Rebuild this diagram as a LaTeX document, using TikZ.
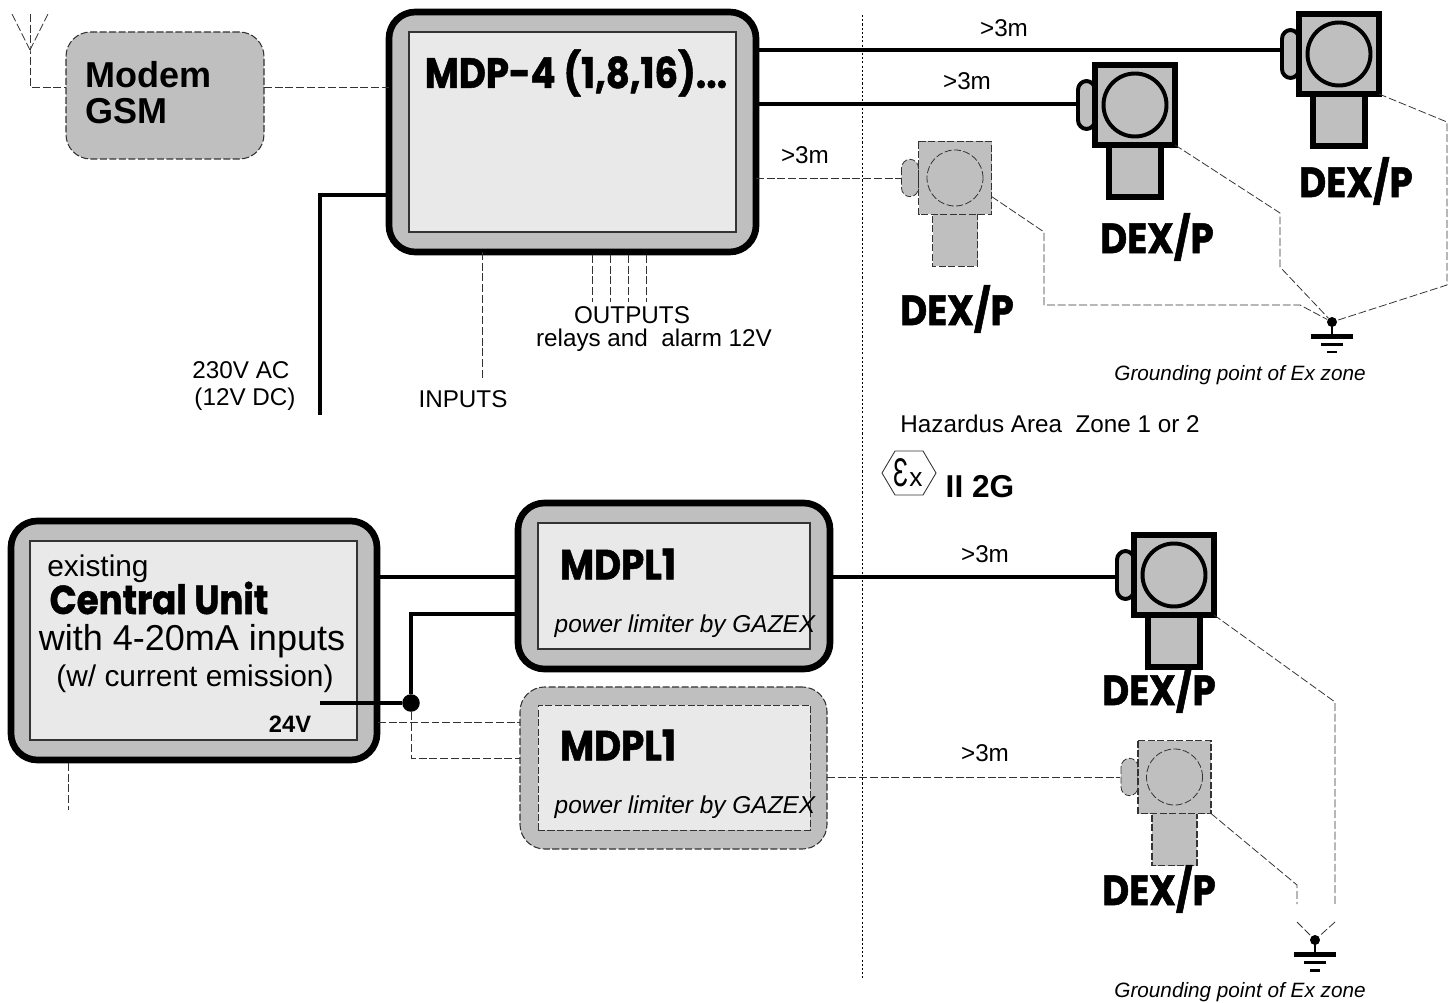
\documentclass[tikz,border=0pt]{standalone}
\usepackage{fontspec}
\usepackage{graphicx}
\setmainfont{Liberation Sans}
\newfontfamily\heavyfont[FakeBold=1.2,FakeStretch=.88]{Poppins}
\usetikzlibrary{positioning}
\definecolor{boxgray}{HTML}{BFBFBF}
\definecolor{panelgray}{HTML}{E9E9E9}
\definecolor{wiregray}{HTML}{333333}
\tikzset{
  devline/.style={draw=black,line width=3pt,fill=boxgray,line join=miter},
  devthin/.style={draw=wiregray,line width=.6pt,dash pattern=on 4pt off 1.4pt,fill=boxgray},
  casing/.style={draw=black,line width=3.8pt,fill=boxgray,rounded corners=15pt,inner sep=0pt,outer sep=0pt},
  casingthin/.style={draw=wiregray,line width=.6pt,dash pattern=on 4pt off 1.4pt,fill=boxgray,rounded corners=14pt,inner sep=0pt,outer sep=0pt},
  panel/.style={draw=wiregray,line width=.6pt,fill=panelgray,inner sep=0pt,outer sep=0pt},
  panelthin/.style={draw=wiregray,line width=.5pt,dash pattern=on 4pt off 1.4pt,fill=panelgray,inner sep=0pt,outer sep=0pt},
  cable/.style={draw=black,line width=1.8pt},
  wire/.style={draw=wiregray,line width=.45pt,dash pattern=on 4.5pt off 1.6pt},
  lbl/.style={font=\fontsize{13.8}{15}\selectfont,inner sep=0pt},
  gndlbl/.style={font=\fontsize{11.8}{14}\selectfont\itshape,inner sep=0pt},
  heavy/.style={font=\fontsize{24}{26}\heavyfont\bfseries,inner sep=0pt},
  gnddot/.style={circle,fill=black,inner sep=0pt,minimum size=5.7pt}
}
\newcommand{\Detector}[5]{%
  \begin{scope}[shift={(#2,#3)}]
    \draw[#5] ({-#4+14},0) rectangle ({#4-14},{#4+52});
    \draw[#5,line width=\pgflinewidth*.75,rounded corners=5pt] ({-#4-17},{-1.5*#4+36}) rectangle (-#4,{1.5*#4-36});
    \draw[#5] (-#4,-#4) rectangle (#4,#4);
    \draw[#5,line width=\pgflinewidth*.75] (0,0) circle ({(#4-8.5)*.02cm});
    \coordinate (#1port) at ({-#4-18},0);
    \coordinate (#1earth) at (#4,#4);
  \end{scope}
}
\newcommand{\Earth}[3]{%
  \node[gnddot] (#1) at (#2,#3) {};
  \fill (#2-1,#3) rectangle (#2+1,#3+13);
  \fill (#2-21,#3+12) rectangle (#2+21,#3+17);
  \fill (#2-11,#3+21) rectangle (#2+11,#3+24);
  \fill (#2-5,#3+29) rectangle (#2+5,#3+31.5);
}
\begin{document}
\begin{tikzpicture}[x=0.02cm,y=-0.02cm]
  \useasboundingbox (0,0) rectangle (1450,1003);

  \node[casingthin,minimum width=198*0.02cm,minimum height=127*0.02cm] (modem) at (165,95.5) {};
  \node[anchor=west,align=left,font=\fontsize{20.5}{20.5}\selectfont\bfseries,inner sep=0pt] (modemtxt) at (85,92.5) {Modem\\GSM};
  \node[casing,minimum width=367*0.02cm,minimum height=240*0.02cm] (mdp) at (572.5,132) {};
  \node[panel,minimum width=327*0.02cm,minimum height=200*0.02cm] (mdppanel) at (572.5,132) {};
  \node[heavy] (mdptxt) at (576,73) {MDP-4 (1,8,16)...};

  \coordinate (antenna) at (30,50);
  \coordinate (antcorner) at (30,87);
  \draw[wire] (antenna) -- (12,14);
  \draw[wire] (antenna) -- (48,14);
  \draw[wire] (30,14) -- (antenna) -- (antcorner) -- (modem.west |- antcorner);
  \draw[wire] (modem.east |- antcorner) -- (mdp.west |- antcorner);

  \coordinate (supply) at (320,415);
  \draw[cable] (390,195) -| (supply);
  \node[lbl] (supplya) at (241,370) {230V AC};
  \node[lbl] (supplyb) at (245,399) {(12V DC)};

  \coordinate (inend) at (482,378);
  \draw[wire] (mdp.south -| inend) -- (inend);
  \node[lbl] (inputs) at (463,399) {INPUTS};
  \foreach \x in {592,610,628,646} {
    \draw[wire] (\x,255) -- (\x,302);
  }
  \node[lbl] (outputs) at (632,315) {OUTPUTS};
  \node[lbl] (relays) at (654,340) {relays and\ \ alarm 12V};

  \Detector{deta}{1339}{54}{40}{devline}
  \Detector{detb}{1135}{105}{40}{devline}
  \Detector{detc}{955}{178}{36.5}{devthin}
  \Detector{detd}{1174}{575}{40}{devline}
  \Detector{dete}{1174.5}{777}{36.5}{devthin}
  \node[heavy] (labela) at (1356,181) {DEX/P};
  \node[heavy] (labelb) at (1157,237) {DEX/P};
  \node[heavy] (labelc) at (957,309) {DEX/P};
  \node[heavy] (labeld) at (1159,689) {DEX/P};
  \node[heavy] (labele) at (1159,889) {DEX/P};

  \coordinate (feeda) at (1281,50);
  \coordinate (feedb) at (1077,104);
  \coordinate (feedd) at (1116,577);
  \draw[cable] (mdp.east |- feeda) -- (feeda);
  \draw[cable] (mdp.east |- feedb) -- (feedb);
  \draw[wire] (mdp.east |- detcport) -- (detcport);
  \node[lbl] (dista) at (1004,28) {>3m};
  \node[lbl] (distb) at (967,81) {>3m};
  \node[lbl] (distc) at (805,155) {>3m};

  \coordinate (zonetop) at (862,15);
  \coordinate (zonebot) at (862,978);
  \draw[black,line width=.5pt,dash pattern=on 1.2pt off 1.2pt] (zonetop) -- (zonebot);

  \Earth{earthtop}{1332}{322}
  \node[gndlbl] (gndtxta) at (1240,375) {Grounding point of Ex zone};
  \draw[wire] (detaearth) -- (1447,122) -- (1447,285) -- (earthtop);
  \draw[wire] (detbearth) -- (1280,213) -- (1280,267) -- (earthtop);
  \draw[wire] (detcearth) ++(0,-18) -- (1044,232) -- (1044,305) -- (1300,305) -- (earthtop);

  \node[lbl] (hazard) at (1050,424) {Hazardus Area\ \ Zone 1 or 2};
  \node[inner sep=0pt,font=\fontsize{15}{16}\selectfont] (extxt) at (908,473) {\resizebox{.3cm}{.56cm}{\char"0190}\kern.5pt x};
  \draw[wiregray,line width=.5pt] (882,473) -- (895,451) -- (923,451) -- (936,473) -- (923,495) -- (895,495) -- cycle;
  \node[font=\fontsize{18}{20}\selectfont\bfseries,inner sep=0pt] (zonecat) at (980,487) {II 2G};

  \node[casing,minimum width=366*0.02cm,minimum height=239*0.02cm] (central) at (194,640.5) {};
  \node[panel,minimum width=327*0.02cm,minimum height=199*0.02cm] (centralpanel) at (193.5,640.5) {};
  \node[anchor=west,font=\fontsize{17}{19}\selectfont,inner sep=0pt] (existing) at (47,569) {existing};
  \node[font=\fontsize{23}{25}\heavyfont\bfseries,inner sep=0pt] (centraltxt) at (159,598) {Central Unit};
  \node[font=\fontsize{20.5}{22}\selectfont,inner sep=0pt] (withtxt) at (192,641) {with 4-20mA inputs};
  \node[font=\fontsize{17}{19}\selectfont,inner sep=0pt] (emission) at (195,679) {(w/ current emission)};
  \node[font=\fontsize{13.5}{15}\selectfont\bfseries,inner sep=0pt] (volts) at (290,724) {24V};

  \node[casing,minimum width=312*0.02cm,minimum height=166*0.02cm] (plima) at (674,586) {};
  \node[panel,minimum width=272*0.02cm,minimum height=126*0.02cm] (plimapanel) at (674,586) {};
  \node[font=\fontsize{24}{26}\heavyfont\bfseries,inner sep=0pt] (plimatxt) at (618,564) {MDPL1};
  \node[font=\fontsize{13.9}{15}\selectfont\itshape,inner sep=0pt] (plimanote) at (685,626) {power limiter by GAZEX};

  \node[casingthin,minimum width=307*0.02cm,minimum height=162*0.02cm] (plimb) at (673.5,768) {};
  \node[panelthin,minimum width=272*0.02cm,minimum height=125*0.02cm] (plimbpanel) at (674,767.5) {};
  \node[font=\fontsize{24}{26}\heavyfont\bfseries,inner sep=0pt] (plimbtxt) at (618,745) {MDPL1};
  \node[font=\fontsize{13.9}{15}\selectfont\itshape,inner sep=0pt] (plimbnote) at (685,807) {power limiter by GAZEX};

  \coordinate (sourcea) at (375,577);
  \draw[cable] (sourcea) -- (sourcea -| plima.west);
  \node[circle,fill=black,inner sep=0pt,minimum size=10pt] (junction) at (411,703) {};
  \coordinate (sourceb) at (320,703);
  \draw[cable] (sourceb) -- (junction);
  \draw[cable] (junction) |- (520,614);
  \draw[wire] (378,722) -- (plimb.west |- 0,722);
  \draw[wire] (junction) |- (plimb.west |- 0,758);
  \draw[wire] (68,763) -- (68,810);

  \draw[cable] (plima.east |- feedd) -- (feedd);
  \draw[wire] (plimb.east |- deteport) -- (deteport);
  \node[lbl] (distd) at (985,554) {>3m};
  \node[lbl] (diste) at (985,753) {>3m};

  \Earth{earthbot}{1315}{940}
  \node[gndlbl] (gndtxtb) at (1240,992) {Grounding point of Ex zone};
  \draw[wire] (detdearth) -- (1335,702) -- (1335,904);
  \draw[wire] (1335,922) -- (earthbot);
  \draw[wire] (deteearth) -- (1297,885) -- (1297,904);
  \draw[wire] (1297,922) -- (earthbot);
\end{tikzpicture}
\end{document}
